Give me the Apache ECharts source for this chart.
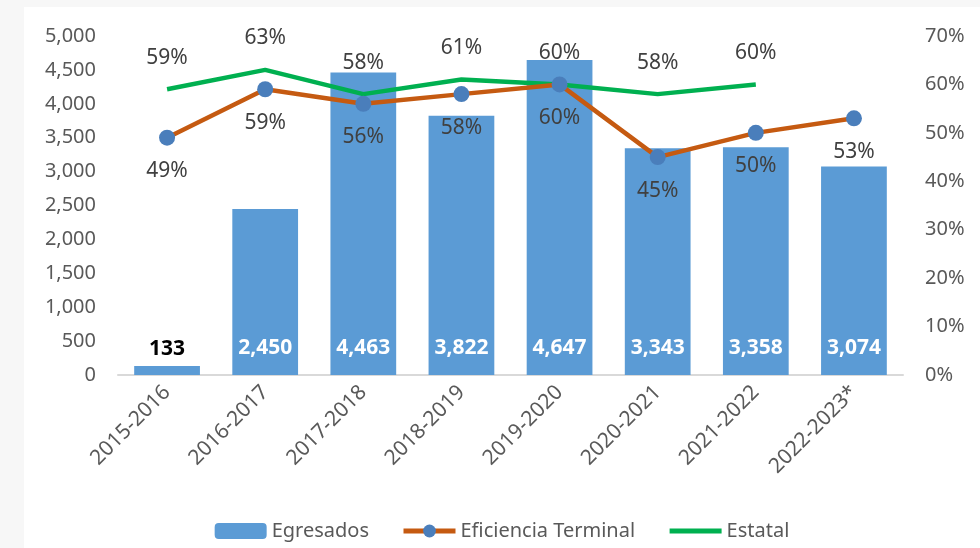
<!DOCTYPE html>
<html>
<head>
<meta charset="utf-8">
<script src="https://cdn.jsdelivr.net/npm/echarts@6/dist/echarts.min.js"></script>
<style>
	html, body { margin: 0; padding: 0; background: #f7f7f7; }
	#chart { position: absolute; left: 24px; top: 7px; width: 956px; height: 541px; background: #fff; }
</style>
</head>
<body>
<div id="chart"></div>
<script>
	var categories = ["2015-2016", "2016-2017", "2017-2018", "2018-2019", "2019-2020", "2020-2021", "2021-2022", "2022-2023*"];
	var egresados = [133, 2450, 4463, 3822, 4647, 3343, 3358, 3074];
	var eficiencia = [49, 59, 56, 58, 60, 45, 50, 53];
	var estatal = [59, 63, 58, 61, 60, 58, 60, null];

	var font = "'Noto Sans', 'Open Sans', sans-serif";
	var gray = "#595959";

	var myChart = echarts.init(document.getElementById("chart"));

	// etiquetas de las barras: la primera queda fuera de la barra, en negro
	var barData = [];
	for (var i = 0; i < egresados.length; i++) {
		var item = { value: egresados[i] };
		if (i == 0) {
			item.label = { color: "#000", distance: 15 };
		}
		barData.push(item);
	}

	var option = {
		textStyle: { fontFamily: font },
		grid: {
			top: 29,
			bottom: 173,
			left: 94,
			right: 77
		},
		legend: {
			bottom: 2,
			left: "center",
			itemGap: 32,
			itemWidth: 52,
			itemHeight: 16,
			lineStyle: { width: 5 },
			textStyle: {
				color: gray,
				fontSize: 20,
				fontFamily: font
			},
			data: ["Egresados", "Eficiencia Terminal", {
				name: "Estatal",
				itemStyle: { opacity: 0 }
			}]
		},
		xAxis: [{
			type: "category",
			data: categories,
			axisTick: { show: false },
			axisLine: {
				lineStyle: { color: "#d9d9d9", width: 2 }
			},
			axisLabel: {
				rotate: 45,
				color: gray,
				fontSize: 21,
				margin: 14,
				interval: 0
			}
		}],
		yAxis: [{
			type: "value",
			min: 0,
			max: 5000,
			interval: 500,
			axisLine: { show: false },
			axisTick: { show: false },
			splitLine: { show: false },
			axisLabel: {
				color: gray,
				fontSize: 20,
				margin: 22,
				formatter: function(v) {
					return v.toLocaleString("en-US");
				}
			}
		}, {
			type: "value",
			min: 0,
			max: 70,
			interval: 10,
			axisLine: { show: false },
			axisTick: { show: false },
			splitLine: { show: false },
			axisLabel: {
				color: gray,
				fontSize: 20,
				margin: 22,
				formatter: "{value}%"
			}
		}],
		series: [{
			name: "Egresados",
			type: "bar",
			data: barData,
			barWidth: "67%",
			itemStyle: { color: "#5b9bd5" },
			label: {
				show: true,
				position: "insideBottom",
				distance: 16,
				color: "#fff",
				fontWeight: "bold",
				fontSize: 21,
				formatter: function(p) {
					return p.value.toLocaleString("en-US");
				}
			},
			z: 1
		}, {
			name: "Eficiencia Terminal",
			type: "line",
			yAxisIndex: 1,
			data: eficiencia,
			symbol: "circle",
			symbolSize: 16,
			lineStyle: { color: "#c55a11", width: 4.5 },
			itemStyle: { color: "#4a7ebb" },
			label: {
				show: true,
				position: "bottom",
				distance: 15,
				color: "#404040",
				fontSize: 21,
				formatter: "{c}%"
			},
			z: 3
		}, {
			name: "Estatal",
			type: "line",
			yAxisIndex: 1,
			data: estatal,
			symbol: "none",
			lineStyle: { color: "#00b050", width: 4.5 },
			itemStyle: { color: "#00b050" },
			z: 2
		}, {
			// solo las etiquetas de la linea estatal
			name: "Estatal etiquetas",
			type: "scatter",
			yAxisIndex: 1,
			data: estatal,
			symbolSize: 0,
			silent: true,
			itemStyle: { opacity: 1 },
			label: {
				show: true,
				position: "top",
				distance: 21,
				color: "#404040",
				fontSize: 21,
				formatter: "{c}%"
			},
			z: 4
		}]
	};
	myChart.setOption(option);
</script>
</body>
</html>
